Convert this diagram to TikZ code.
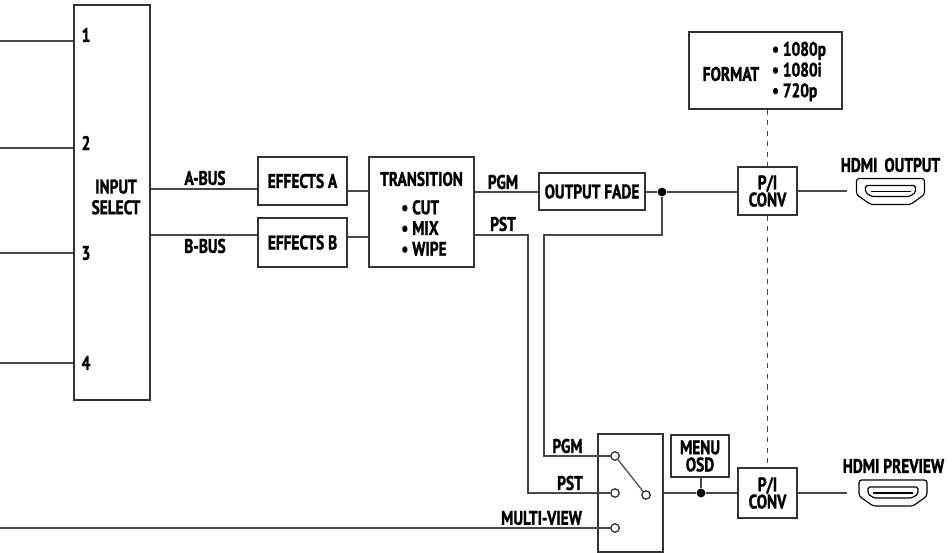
\documentclass[tikz,border=0pt]{standalone}
\usepackage{fontspec}
\setmainfont[FakeStretch=0.78,BoldFeatures={FakeBold=1.4}]{PT Sans}
\usetikzlibrary{positioning}
\tikzset{
    sigline/.style={line width=0.68pt, draw=black!72},
    blockbox/.style={draw=black!80, line width=0.68pt, fill=white, inner sep=0pt, align=center, font=\blocktext},
    sigtext/.style={inner sep=0pt, align=center, font=\blocktext},
    listtext/.style={inner sep=0pt, align=left, font=\listtext},
    junction/.style={circle, fill=black, inner sep=0pt, minimum size=5pt},
    contact/.style={circle, draw=black!85, line width=0.68pt, fill=white, inner sep=0pt, minimum size=4.8pt},
    hdmiport/.pic={
        \draw[line width=0.65pt, rounded corners=1.5pt] (-34,-13) -- (34,-13) -- (34,3) -- (20,13) -- (-20,13) -- (-34,3) -- cycle;
        \draw[line width=0.65pt, rounded corners=1pt] (-25,-6) -- (25,-6) -- (25,1) -- (19,5) -- (-19,5) -- (-25,1) -- cycle;
        \draw[line width=1pt] (-20,0) -- (20,0);
    }
}
\newcommand{\blocktext}{\bfseries\fontsize{11.2}{9.8}\selectfont}
\newcommand{\listtext}{\bfseries\fontsize{11.2}{11.8}\selectfont}
\begin{document}
\begin{tikzpicture}[x=0.02cm, y=-0.02cm]
    \useasboundingbox (0,0) rectangle (952,553);

    % blocks
    \node[blockbox, minimum width=1.52cm, minimum height=7.9cm] (input) at (112,202.5) {};
    \node[listtext, align=center] (inputtext) at (116,197) {INPUT\\SELECT};
    \node[blockbox, minimum width=1.78cm, minimum height=0.96cm] (effa) at (302.5,181) {EFFECTS A};
    \node[blockbox, minimum width=1.78cm, minimum height=0.98cm] (effb) at (302.5,242.5) {EFFECTS B};
    \node[blockbox, minimum width=2.1cm, minimum height=2.2cm] (trans) at (421.5,212) {};
    \node[sigtext] (transtext) at (421.5,179) {TRANSITION};
    \node[listtext] (transitems) at (424,228) {• CUT\\• MIX\\• WIPE};
    \node[blockbox, minimum width=2.12cm, minimum height=0.74cm] (fade) at (592,191.5) {OUTPUT FADE};
    \node[blockbox, minimum width=3.06cm, minimum height=1.54cm] (format) at (765.5,70.5) {};
    \node[sigtext] (formattext) at (731,74) {FORMAT};
    \node[listtext] (formatitems) at (799,71.5) {• 1080p\\• 1080i\\• 720p};
    \node[blockbox, minimum width=1.18cm, minimum height=0.96cm] (conva) at (767.5,191) {P/I\\CONV};
    \node[blockbox, minimum width=1.18cm, minimum height=1cm] (convb) at (767.5,493) {P/I\\CONV};
    \node[blockbox, minimum width=1.3cm, minimum height=2.36cm] (switch) at (630.5,493) {};
    \node[blockbox, minimum width=1.16cm, minimum height=0.84cm] (menu) at (700,456) {MENU\\OSD};

    % input lines
    \coordinate (ina) at (0,41);
    \coordinate (inb) at (0,148);
    \coordinate (inc) at (0,253);
    \coordinate (ind) at (0,363);
    \draw[sigline] (ina) -- (ina -| input.west);
    \draw[sigline] (inb) -- (inb -| input.west);
    \draw[sigline] (inc) -- (inc -| input.west);
    \draw[sigline] (ind) -- (ind -| input.west);
    \node[sigtext] (numa) at (86,35) {1};
    \node[sigtext] (numb) at (86,143) {2};
    \node[sigtext] (numc) at (86,253) {3};
    \node[sigtext] (numd) at (86,363) {4};

    % busses
    \coordinate (busa) at (200,189);
    \coordinate (busb) at (200,235);
    \draw[sigline] (busa -| input.east) -- (busa -| effa.west);
    \draw[sigline] (busb -| input.east) -- (busb -| effb.west);
    \node[sigtext] (busatext) at (205,178) {A-BUS};
    \node[sigtext] (busbtext) at (205,246) {B-BUS};
    \coordinate (mixa) at (358,191);
    \coordinate (mixb) at (358,237);
    \draw[sigline] (mixa -| effa.east) -- (mixa -| trans.west);
    \draw[sigline] (mixb -| effb.east) -- (mixb -| trans.west);

    % program and preset
    \coordinate (pgmout) at (500,192);
    \coordinate (pstout) at (500,235);
    \coordinate (pstdown) at (528,235);
    \coordinate (pgmleft) at (544,235);
    \coordinate (pgmright) at (662,235);
    \node[junction] (fadedot) at (662,192) {};
    \draw[sigline] (pgmout -| trans.east) -- (pgmout -| fade.west);
    \draw[sigline] (fade.east |- fadedot) -- (fadedot) -- (fadedot -| conva.west);
    \node[sigtext] (pgmtext) at (503,182) {PGM};
    \node[sigtext] (psttext) at (503,224) {PST};

    % switch
    \node[contact] (swpgm) at (615,456) {};
    \node[contact] (swpst) at (615,493) {};
    \node[contact] (swmv) at (615,528) {};
    \node[contact] (swout) at (646,495) {};
    \draw[sigline] (pstout -| trans.east) -- (pstdown) -- (pstdown |- swpst) -- (swpst);
    \draw[sigline] (fadedot) -- (pgmright) -- (pgmleft) -- (pgmleft |- swpgm) -- (swpgm);
    \coordinate (mvin) at (0,528);
    \draw[sigline] (mvin) -- (swmv);
    \draw[sigline] (swpgm) -- (swout);
    \node[sigtext] (swpgmtext) at (567.5,446) {PGM};
    \node[sigtext] (swpsttext) at (570,483) {PST};
    \node[sigtext] (swmvtext) at (541.5,518) {MULTI-VIEW};

    % preview output
    \coordinate (prevout) at (680,493);
    \node[junction] (menudot) at (701,493) {};
    \draw[sigline] (prevout -| switch.east) -- (menudot) -- (prevout -| convb.west);
    \draw[sigline] (menu.south -| menudot) -- (menudot);

    % format control
    \draw[sigline, dashed] (format.south -| conva.north) -- (conva.north);
    \draw[sigline, dashed] (conva.south) -- (convb.north);

    % hdmi
    \coordinate (hdmia) at (847,191);
    \coordinate (hdmib) at (847,493);
    \draw[sigline] (conva.east) -- (hdmia);
    \draw[sigline] (convb.east) -- (hdmib);
    \pic at (890.5,191.5) {hdmiport};
    \pic at (893,493) {hdmiport};
    \node[sigtext] (hdmiatext) at (890.5,165) {HDMI\hspace{4pt}OUTPUT};
    \node[sigtext] (hdmibtext) at (893.5,466) {HDMI PREVIEW};
\end{tikzpicture}
\end{document}
